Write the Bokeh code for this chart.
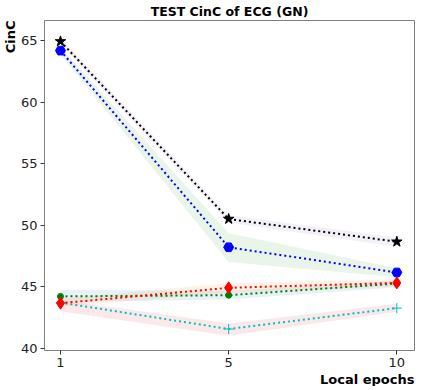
from bokeh.plotting import figure
from bokeh.models import Range1d, FixedTicker, Title
from bokeh.embed import file_html
from bokeh.resources import INLINE

# ---- data ----
epochs = ["1", "5", "10"]

black_star = [64.95, 50.5, 48.65]
black_lo = [64.7, 50.2, 48.25]
black_hi = [65.25, 50.8, 49.0]

blue_pent = [64.2, 48.2, 46.15]
blue_lo = [63.9, 47.0, 45.75]
blue_hi = [64.5, 49.35, 46.5]

red_diam = [43.65, 44.9, 45.3]
red_lo = [43.35, 44.5, 45.0]
red_hi = [44.0, 45.3, 45.6]

green_dot = [44.2, 44.3, 45.25]
green_lo = [43.75, 43.95, 44.95]
green_hi = [44.75, 44.65, 45.5]

cyan_plus = [43.7, 41.55, 43.25]
cyan_lo = [43.0, 41.0, 42.95]
cyan_hi = [43.9, 42.0, 43.6]

y_ticks = [40, 45, 50, 55, 60, 65]

x = list(range(len(epochs)))
FONT = "DejaVu Sans"

p = figure(frame_width=370, frame_height=330, output_backend="svg", toolbar_location=None,
           x_range=Range1d(-0.095, 2.105), y_range=Range1d(39.8, 66.65),
           min_border_left=2, min_border_right=2, min_border_top=2, min_border_bottom=0)

p.title.text = "TEST CinC of ECG (GN)"
p.title.align = "center"
p.title.text_font = FONT
p.title.text_font_style = "bold"
p.title.text_font_size = "12.5px"
p.title.text_color = "black"
p.title.standoff = 3

p.add_layout(Title(text="Local epochs", align="right", text_font=FONT, text_color="black",
                   text_font_style="bold", text_font_size="13px", standoff=0), "below")
p.add_layout(Title(text="CinC", align="right", text_font=FONT, text_color="black",
                   text_font_style="bold", text_font_size="13px", standoff=0), "left")

# bands
bands = [
    (black_lo, black_hi, "#9467bd"),
    (blue_lo, blue_hi, "#2ca02c"),
    (red_lo, red_hi, "#ff7f0e"),
    (green_lo, green_hi, "#1f77b4"),
    (cyan_lo, cyan_hi, "#d62728"),
]
for lo, hi, c in bands:
    p.varea(x=x, y1=lo, y2=hi, fill_color=c, fill_alpha=0.1)

series = [
    (cyan_plus, "#00bfbf", "cross", 10),
    (green_dot, "green", "circle", 6),
    (red_diam, "red", "diamond", 12),
    (blue_pent, "blue", "hex", 10),
    (black_star, "black", "star", 11),
]
for ys, c, m, s in series:
    p.line(x, ys, line_color=c, line_width=2, line_dash="2 3")
    if m == "cross":
        p.scatter(x, ys, marker=m, size=s, line_color=c, line_width=1)
    else:
        p.scatter(x, ys, marker=m, size=s, fill_color=c, line_color=c)

p.xgrid.visible = False
p.ygrid.visible = False
p.outline_line_color = "#808080"
p.outline_line_width = 1

p.xaxis.ticker = FixedTicker(ticks=x)
p.xaxis.major_label_overrides = {i: e for i, e in enumerate(epochs)}
p.yaxis.ticker = FixedTicker(ticks=y_ticks)
for ax in (p.xaxis, p.yaxis):
    ax.axis_line_color = None
    ax.major_tick_line_color = "#333333"
    ax.major_tick_out = 4
    ax.major_tick_in = 0
    ax.minor_tick_line_color = None
    ax.major_label_text_font = FONT
    ax.major_label_text_font_size = "13px"
    ax.major_label_text_color = "#222222"
    ax.major_label_standoff = 3

open("out.html", "w").write(file_html(p, INLINE))
